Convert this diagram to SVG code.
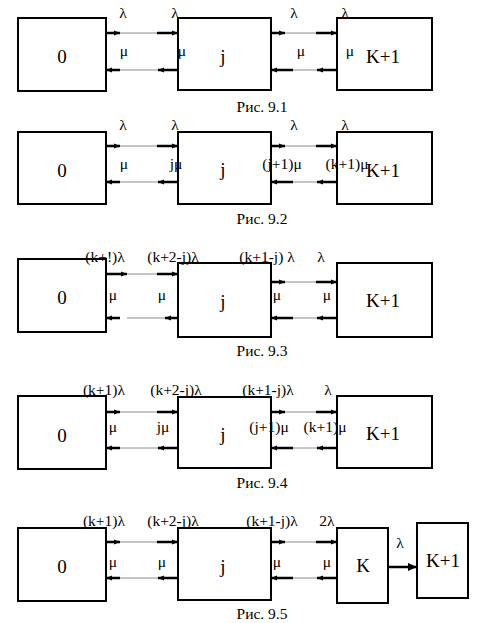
<svg xmlns="http://www.w3.org/2000/svg" width="483" height="623" viewBox="0 0 483 623">
<style>
.box{fill:#fff;stroke:#000;stroke-width:2}
.thick{stroke:#000;stroke-width:2.5;fill:none;marker-end:url(#ah)}
.thin{stroke:#8c8c8c;stroke-width:1;fill:none}
.big{stroke:#000;stroke-width:2.5;fill:none;marker-end:url(#ahb)}
text{font-family:"Liberation Serif","Times New Roman",serif;text-anchor:middle;fill:#000}
.lbl{font-size:15.5px}
.nl{font-size:19px}
.cap{font-size:15.5px}
</style>
<defs>
<marker id="ah" markerUnits="userSpaceOnUse" markerWidth="6" markerHeight="6" refX="6" refY="3" orient="auto"><path d="M0,0.5 L6,3 L0,5.5z" fill="#000"/></marker>
<marker id="ahb" markerUnits="userSpaceOnUse" markerWidth="9" markerHeight="9" refX="9" refY="4.5" orient="auto"><path d="M0,0.5 L9,4.5 L0,8.5z" fill="#000"/></marker>
</defs>

<!-- Figure 9.1 -->
<g id="f1-n0"><rect class="box" x="18" y="18" width="88" height="73"/><text class="nl" x="62" y="63">0</text></g>
<g id="f1-nj"><rect class="box" x="178" y="18" width="93" height="72"/><text class="nl" x="223" y="63">j</text></g>
<g id="f1-nk1"><rect class="box" x="337" y="18" width="95" height="72"/><text class="nl" x="383" y="63">K+1</text></g>

<!-- Figure 9.2 -->
<g id="f2-n0"><rect class="box" x="18" y="132" width="88" height="72"/><text class="nl" x="62" y="177">0</text></g>
<g id="f2-nj"><rect class="box" x="178" y="132" width="93" height="72"/><text class="nl" x="223" y="176">j</text></g>
<g id="f2-nk1"><rect class="box" x="337" y="132" width="95" height="72"/><text class="nl" x="383" y="177">K+1</text></g>

<!-- Figure 9.3 -->
<g id="f3-n0"><rect class="box" x="18" y="259" width="88" height="73"/><text class="nl" x="62" y="304">0</text></g>
<g id="f3-nj"><rect class="box" x="178" y="263" width="93" height="74"/><text class="nl" x="223" y="308">j</text></g>
<g id="f3-nk1"><rect class="box" x="337" y="263" width="95" height="74"/><text class="nl" x="383" y="307">K+1</text></g>

<!-- Figure 9.4 -->
<g id="f4-n0"><rect class="box" x="18" y="396" width="88" height="73"/><text class="nl" x="62" y="442">0</text></g>
<g id="f4-nj"><rect class="box" x="178" y="397" width="93" height="71"/><text class="nl" x="223" y="441">j</text></g>
<g id="f4-nk1"><rect class="box" x="337" y="396" width="95" height="72"/><text class="nl" x="383" y="440">K+1</text></g>

<!-- Figure 9.5 -->
<g id="f5-n0"><rect class="box" x="18" y="528" width="88" height="73"/><text class="nl" x="62" y="573">0</text></g>
<g id="f5-nj"><rect class="box" x="178" y="528" width="93" height="72"/><text class="nl" x="223" y="573">j</text></g>
<g id="f5-nk"><rect class="box" x="337" y="528" width="51" height="75"/><text class="nl" x="363" y="572">K</text></g>
<g id="f5-nk1"><rect class="box" x="417" y="523" width="51" height="75"/><text class="nl" x="443" y="567">K+1</text></g>

<g id="connectors">
<!-- fig1 -->
<path class="thin" d="M120,33H157M120,70H158M285,33H316M293,70H317"/>
<path class="thick" d="M106,33H120"/><path class="thick" d="M157,33H178"/>
<path class="thick" d="M120,70H106"/><path class="thick" d="M178,70H158"/>
<path class="thick" d="M271,33H285"/><path class="thick" d="M316,33H337"/>
<path class="thick" d="M293,70H271"/><path class="thick" d="M337,70H317"/>
<!-- fig2 -->
<path class="thin" d="M120,146H157M120,182H158M285,146H316M293,182H317"/>
<path class="thick" d="M106,146H120"/><path class="thick" d="M157,146H178"/>
<path class="thick" d="M120,182H106"/><path class="thick" d="M178,182H158"/>
<path class="thick" d="M271,146H285"/><path class="thick" d="M316,146H337"/>
<path class="thick" d="M293,182H271"/><path class="thick" d="M337,182H317"/>
<!-- fig3 -->
<path class="thin" d="M127,274H157M127,318H165M285,282H316M293,318H317"/>
<path class="thick" d="M106,274H127"/><path class="thick" d="M157,274H178"/>
<path class="thick" d="M120,318H106"/><path class="thick" d="M178,318H165"/>
<path class="thick" d="M271,282H285"/><path class="thick" d="M316,282H337"/>
<path class="thick" d="M293,318H271"/><path class="thick" d="M337,318H317"/>
<!-- fig4 -->
<path class="thin" d="M120,412H157M120,448H158M285,412H316M293,448H317"/>
<path class="thick" d="M106,412H120"/><path class="thick" d="M157,412H178"/>
<path class="thick" d="M120,448H106"/><path class="thick" d="M178,448H158"/>
<path class="thick" d="M271,412H285"/><path class="thick" d="M316,412H337"/>
<path class="thick" d="M293,448H271"/><path class="thick" d="M337,448H317"/>
<!-- fig5 -->
<path class="thin" d="M120,542H157M120,578H158M285,542H316M293,578H317"/>
<path class="thick" d="M106,542H120"/><path class="thick" d="M157,542H178"/>
<path class="thick" d="M120,578H106"/><path class="thick" d="M178,578H158"/>
<path class="thick" d="M271,542H285"/><path class="thick" d="M316,542H337"/>
<path class="thick" d="M293,578H271"/><path class="thick" d="M337,578H317"/>
<path class="big" d="M388,567H417"/>
</g>

<g id="labels" class="lbl">
<!-- fig1 -->
<text class="lbl" x="123" y="18">λ</text><text class="lbl" x="175" y="18">λ</text>
<text class="lbl" x="294" y="18">λ</text><text class="lbl" x="345" y="18">λ</text>
<text class="lbl" x="124" y="56">μ</text><text class="lbl" x="182" y="56">μ</text>
<text class="lbl" x="301" y="56">μ</text><text class="lbl" x="350" y="56">μ</text>
<!-- fig2 -->
<text class="lbl" x="123" y="130">λ</text><text class="lbl" x="175" y="130">λ</text>
<text class="lbl" x="294" y="130">λ</text><text class="lbl" x="345" y="130">λ</text>
<text class="lbl" x="124" y="169">μ</text><text class="lbl" x="176" y="169">jμ</text>
<text class="lbl" x="282" y="169">(j+1)μ</text><text class="lbl" x="347" y="169">(k+1)μ</text>
<!-- fig3 -->
<text class="lbl" x="105" y="262">(k+!)λ</text><text class="lbl" x="173" y="262">(k+2-j)λ</text>
<text class="lbl" x="267" y="262">(k+1-j) λ</text><text class="lbl" x="321" y="262">λ</text>
<text class="lbl" x="113" y="300">μ</text><text class="lbl" x="162" y="300">μ</text>
<text class="lbl" x="277" y="300">μ</text><text class="lbl" x="327" y="300">μ</text>
<!-- fig4 -->
<text class="lbl" x="104" y="395">(k+1)λ</text><text class="lbl" x="176" y="395">(k+2-j)λ</text>
<text class="lbl" x="268" y="395">(k+1-j)λ</text><text class="lbl" x="328" y="395">λ</text>
<text class="lbl" x="113" y="432">μ</text><text class="lbl" x="163" y="432">jμ</text>
<text class="lbl" x="269" y="432">(j+1)μ</text><text class="lbl" x="325" y="432">(k+1)μ</text>
<!-- fig5 -->
<text class="lbl" x="104" y="526">(k+1)λ</text><text class="lbl" x="173" y="526">(k+2-j)λ</text>
<text class="lbl" x="272" y="526">(k+1-j)λ</text><text class="lbl" x="327" y="526">2λ</text>
<text class="lbl" x="113" y="567">μ</text><text class="lbl" x="162" y="567">μ</text>
<text class="lbl" x="277" y="567">μ</text><text class="lbl" x="327" y="567">μ</text>
<text class="lbl" x="400" y="548">λ</text>
</g>

<g id="captions">
<text class="cap" x="262" y="112">Рис. 9.1</text>
<text class="cap" x="262" y="224">Рис. 9.2</text>
<text class="cap" x="262" y="356">Рис. 9.3</text>
<text class="cap" x="262" y="488">Рис. 9.4</text>
<text class="cap" x="262" y="619">Рис. 9.5</text>
</g>
</svg>
